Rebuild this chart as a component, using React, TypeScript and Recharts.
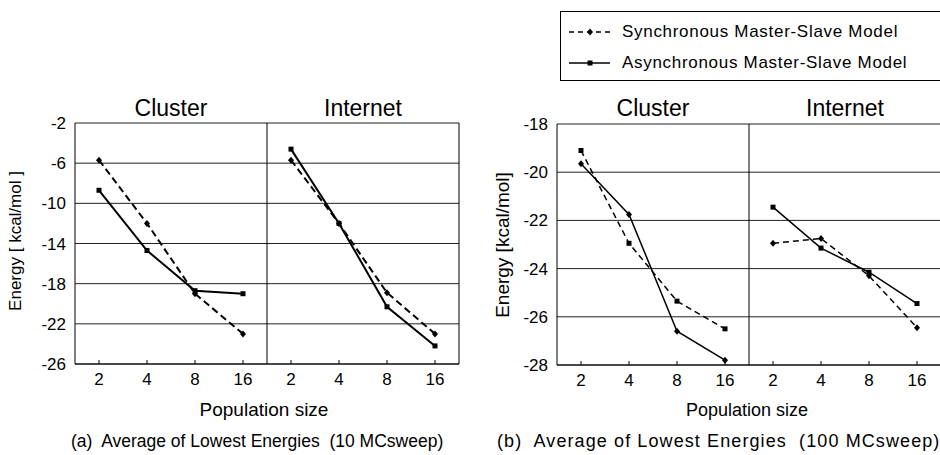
import { CartesianGrid, Line, LineChart, ReferenceLine, XAxis, YAxis } from "recharts";

const sizes = ["2", "4", "8", "16"];
const groups = ["Cluster", "Internet"];
const seriesNames = ["Synchronous Master-Slave Model", "Asynchronous Master-Slave Model"];

// (a) 10 MCsweep
const syncClusterA = [-5.7, -12.0, -19.0, -23.0];
const asyncClusterA = [-8.7, -14.7, -18.7, -19.0];
const syncInternetA = [-5.7, -12.0, -18.9, -23.0];
const asyncInternetA = [-4.6, -12.0, -20.3, -24.2];

// (b) 100 MCsweep
const syncClusterB = [-19.1, -22.95, -25.35, -26.5];
const asyncClusterB = [-19.65, -21.75, -26.6, -27.8];
const syncInternetB = [-22.95, -22.75, -24.3, -26.45];
const asyncInternetB = [-21.45, -23.15, -24.15, -25.45];

const ticksA = [-26, -22, -18, -14, -10, -6, -2];
const ticksB = [-28, -26, -24, -22, -20, -18];

const font = "'Liberation Sans', Arial, sans-serif";

function buildRows(syncC: number[], syncI: number[], asyncC: number[], asyncI: number[]) {
    return [...sizes, ...sizes].map((label, i) => {
        const k = i % 4;
        const cluster = i < 4;
        return {
            x: i,
            label,
            syncC: cluster ? syncC[k] : null,
            syncI: cluster ? null : syncI[k],
            asyncC: cluster ? asyncC[k] : null,
            asyncI: cluster ? null : asyncI[k],
        };
    });
}

const rowsA = buildRows(syncClusterA, syncInternetA, asyncClusterA, asyncInternetA);
const rowsB = buildRows(syncClusterB, syncInternetB, asyncClusterB, asyncInternetB);

function marker(shape: "diamond" | "square") {
    return (p: any) => {
        const { cx, cy, index } = p;
        if (cx == null || cy == null || p.value == null || (Array.isArray(p.value) && p.value[1] == null)) {
            return <g key={`e${index}`} />;
        }
        if (shape === "square") {
            return <rect key={`s${index}`} x={cx - 2.5} y={cy - 2.5} width={5} height={5} fill="#000" />;
        }
        return (
            <path
                key={`d${index}`}
                d={`M${cx},${cy - 3.5}L${cx + 3},${cy}L${cx},${cy + 3.5}L${cx - 3},${cy}Z`}
                fill="#000"
            />
        );
    };
}

function XTick({ x, y, payload }: any) {
    return (
        <g>
            <line x1={x} x2={x} y1={y} y2={y - 4} stroke="#000" />
            <text x={x} y={y + 21} textAnchor="middle" fontSize={17} fontFamily={font} fill="#000">
                {sizes[payload.value % 4]}
            </text>
        </g>
    );
}

interface PanelProps {
    left: number;
    width: number;
    margin: { top: number; right: number; bottom: number; left: number };
    rows: any[];
    domain: [number, number];
    ticks: number[];
    lineWidth: number;
    dash: string;
    markers: Record<string, "diamond" | "square">;
}

function Panel({ left, width, margin, rows, domain, ticks, lineWidth, dash, markers }: PanelProps) {
    return (
        <div style={{ position: "absolute", left, top: 0 }}>
            <LineChart width={width} height={455} data={rows} margin={margin}>
                <CartesianGrid horizontal vertical={false} stroke="#222" horizontalValues={ticks} />
                <XAxis
                    dataKey="x"
                    type="number"
                    domain={[-0.5, 7.5]}
                    ticks={[0, 1, 2, 3, 4, 5, 6, 7]}
                    height={30}
                    tickSize={0}
                    tickMargin={0}
                    tick={<XTick />}
                    axisLine={{ stroke: "#000" }}
                    interval={0}
                />
                <YAxis
                    type="number"
                    domain={domain}
                    ticks={ticks}
                    width={60}
                    tickLine={false}
                    tickSize={0}
                    tickMargin={9}
                    axisLine={{ stroke: "#000" }}
                    tick={{ fontSize: 17, fontFamily: font, fill: "#000" }}
                    interval={0}
                />
                <ReferenceLine x={3.5} stroke="#000" />
                <ReferenceLine x={7.5} stroke="#000" />
                <Line dataKey="syncC" stroke="#000" strokeWidth={lineWidth} strokeDasharray={dash} dot={marker(markers.syncC)} isAnimationActive={false} />
                <Line dataKey="syncI" stroke="#000" strokeWidth={lineWidth} strokeDasharray={dash} dot={marker(markers.syncI)} isAnimationActive={false} />
                <Line dataKey="asyncC" stroke="#000" strokeWidth={lineWidth} dot={marker(markers.asyncC)} isAnimationActive={false} />
                <Line dataKey="asyncI" stroke="#000" strokeWidth={lineWidth} dot={marker(markers.asyncI)} isAnimationActive={false} />
            </LineChart>
        </div>
    );
}

export default function App() {
    return (
        <div style={{ position: "absolute", left: 0, top: 0, width: 940, height: 455, overflow: "hidden", background: "#fff" }}>
            <Panel
                left={0}
                width={470}
                margin={{ top: 123, right: 11, bottom: 61, left: 15 }}
                rows={rowsA}
                domain={[-26, -2]}
                ticks={ticksA}
                lineWidth={2}
                dash="7 4"
                markers={{ syncC: "diamond", syncI: "diamond", asyncC: "square", asyncI: "square" }}
            />
            <Panel
                left={470}
                width={475}
                margin={{ top: 124, right: 4, bottom: 60, left: 27 }}
                rows={rowsB}
                domain={[-28, -18]}
                ticks={ticksB}
                lineWidth={1.5}
                dash="6 4"
                markers={{ syncC: "square", syncI: "diamond", asyncC: "diamond", asyncI: "square" }}
            />
            <svg width={940} height={455} style={{ position: "absolute", left: 0, top: 0, pointerEvents: "none" }} fontFamily={font}>
                {/* panel titles */}
                <text x={171} y={116} textAnchor="middle" fontSize={23}>{groups[0]}</text>
                <text x={363} y={116} textAnchor="middle" fontSize={23}>{groups[1]}</text>
                <text x={653} y={116} textAnchor="middle" fontSize={23}>{groups[0]}</text>
                <text x={845} y={116} textAnchor="middle" fontSize={23}>{groups[1]}</text>

                {/* y labels */}
                <text transform="translate(21,241) rotate(-90)" textAnchor="middle" fontSize={17}>Energy [ kcal/mol ]</text>
                <text transform="translate(509,245) rotate(-90)" textAnchor="middle" fontSize={19}>Energy [kcal/mol]</text>

                {/* x labels and captions */}
                <text x={264} y={416} textAnchor="middle" fontSize={19}>Population size</text>
                <text x={747} y={416} textAnchor="middle" fontSize={18}>Population size</text>
                <text x={71} y={447} fontSize={17.5} xmlSpace="preserve">(a)  Average of Lowest Energies  (10 MCsweep)</text>
                <text x={497} y={447} fontSize={18} letterSpacing={1.1} xmlSpace="preserve">(b)  Average of Lowest Energies  (100 MCsweep)</text>

                {/* legend */}
                <rect x={560.5} y={11.5} width={400} height={69} fill="none" stroke="#000" />
                <line x1={569} x2={610} y1={32} y2={32} stroke="#000" strokeWidth={1.5} strokeDasharray="5 4" />
                <path d="M590,28.5L593,32L590,35.5L587,32Z" fill="#000" />
                <text x={622} y={37} fontSize={17} letterSpacing={0.7}>{seriesNames[0]}</text>
                <line x1={569} x2={610} y1={63} y2={63} stroke="#000" strokeWidth={1.5} />
                <rect x={587.5} y={60.5} width={5} height={5} fill="#000" />
                <text x={622} y={68} fontSize={17} letterSpacing={0.7}>{seriesNames[1]}</text>
            </svg>
        </div>
    );
}
